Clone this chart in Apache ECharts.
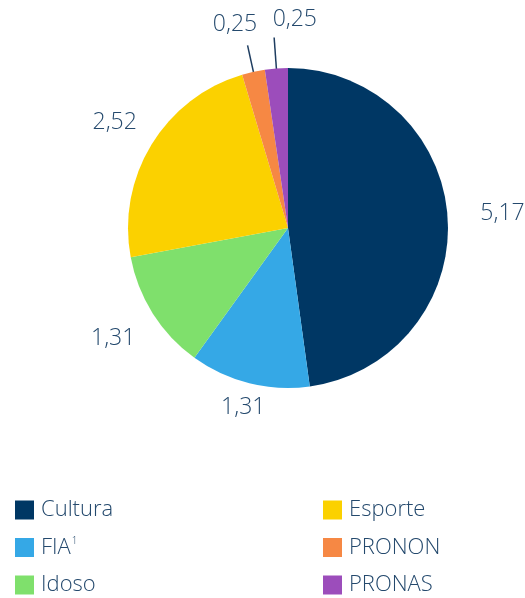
<!DOCTYPE html>
<html>
<head>
<meta charset="utf-8">
<script src="https://cdn.jsdelivr.net/npm/echarts@6/dist/echarts.min.js"></script>
<style>
  html, body { margin: 0; padding: 0; background: #ffffff; }
  #chart { width: 525px; height: 598px; }
</style>
</head>
<body>
<div id="chart"></div>
<script>
// Program shares (R$ bilhões), drawn clockwise from 12 o'clock
const categories = ['Cultura', 'FIA', 'Idoso', 'Esporte', 'PRONON', 'PRONAS'];
const values = [5.17, 1.31, 1.31, 2.52, 0.25, 0.25];
const colors = ['#003764', '#35a8e6', '#7fe06c', '#fbd100', '#f68844', '#9c4dbb'];
// legend grid: two columns, three rows
const legendColumns = [['Cultura', 'FIA', 'Idoso'], ['Esporte', 'PRONON', 'PRONAS']];

const TEXT = '#24496d';
const FONT = '"Open Sans", Lato, sans-serif';
const CX = 288, CY = 228, R = 160;

// distance of each label centre from the pie centre, plus a sideways nudge
const labelDist = [215, 185, 207, 203, 208, 209];
const labelShift = [0, 0, 0, 0, -8, 22];
// leader lines for the thin slices: from inside the slice out past the rim
const leaderInner = R - 18;
const leaderOuter = [0, 0, 0, 0, 187, 191];

const total = values.reduce((a, b) => a + b, 0);
const midAngles = [];
let acc = 0;
values.forEach(v => {
  midAngles.push((acc + v / 2) / total * Math.PI * 2);
  acc += v;
});
const polar = (ang, d) => [CX + Math.sin(ang) * d, CY - Math.cos(ang) * d];

const fmt = v => v.toFixed(2).replace('.', ',');

const pieData = categories.map((name, i) => ({
  name: name,
  value: values[i],
  itemStyle: { color: colors[i] },
  labelLine: { show: leaderOuter[i] > 0 }
}));

const legendText = {
  color: TEXT,
  fontFamily: FONT,
  fontSize: 22,
  fontWeight: 300,
  padding: [0, 0, 0, 2],
  rich: {
    n: { color: TEXT, fontFamily: FONT, fontSize: 22, fontWeight: 300 },
    sup: { color: TEXT, fontFamily: FONT, fontSize: 10, fontWeight: 300, verticalAlign: 'top', padding: [0, 0, 11, 1] }
  }
};
const legendFmt = name => name === 'FIA' ? '{n|FIA}{sup|1}' : name;

const colLeft = [15, 323];
const rowTop = [499, 536.5, 574];
const legends = [];
legendColumns.forEach((col, c) => {
  col.forEach((name, r) => {
    legends.push({
      data: [name], left: colLeft[c], top: rowTop[r],
      icon: 'rect', itemWidth: 19, itemHeight: 19,
      textStyle: legendText, formatter: legendFmt,
      selectedMode: false, padding: 0
    });
  });
});

const chart = echarts.init(document.getElementById('chart'), null, { renderer: 'canvas' });
chart.setOption({
  animation: false,
  backgroundColor: '#ffffff',
  legend: legends,
  series: [{
    type: 'pie',
    center: [CX, CY],
    radius: R,
    startAngle: 90,
    clockwise: true,
    avoidLabelOverlap: false,
    data: pieData,
    label: {
      show: true,
      position: 'outside',
      formatter: p => fmt(p.value),
      color: TEXT,
      fontFamily: FONT,
      fontSize: 23,
      fontWeight: 300
    },
    labelLine: {
      show: false,
      showAbove: true,
      lineStyle: { color: '#1e3d60', width: 1.5 }
    },
    labelLayout: function (params) {
      const i = params.dataIndex;
      const ang = midAngles[i];
      let pos;
      const out = { align: 'center', verticalAlign: 'middle' };
      if (leaderOuter[i] > 0) {
        const a = polar(ang, leaderInner);
        const b = polar(ang, leaderOuter[i]);
        out.labelLinePoints = [a, b, b];
        const c = polar(ang, labelDist[i]);
        pos = [c[0] + labelShift[i], c[1]];
      } else {
        pos = polar(ang, labelDist[i]);
      }
      out.x = pos[0];
      out.y = pos[1];
      return out;
    }
  }]
});
</script>
</body>
</html>
